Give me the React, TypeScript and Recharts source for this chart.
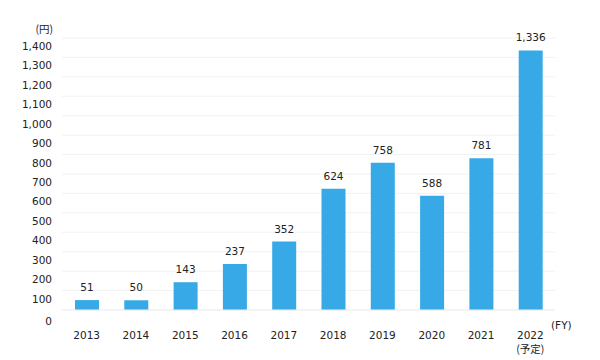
import React from 'react';
import { BarChart, Bar, XAxis, YAxis, CartesianGrid, LabelList } from 'recharts';

const years = ['2013', '2014', '2015', '2016', '2017', '2018', '2019', '2020', '2021', '2022'];
const values = [51, 50, 143, 237, 352, 624, 758, 588, 781, 1336];
const yTicks = [0, 100, 200, 300, 400, 500, 600, 700, 800, 900, 1000, 1100, 1200, 1300, 1400];

const data = years.map((y, i) => ({ year: y, value: values[i] }));

const FONT = '"DejaVu Sans", Verdana, sans-serif';
const fmt = (v: number) => v.toLocaleString('en-US');

const YTick = (props: any) => {
  const { x, y, payload } = props;
  const off = payload.value === 0 ? 15 : 12;
  return (
    <text x={x} y={y + off} textAnchor="end" fontFamily={FONT} fontSize={10.5} fill="#222">
      {fmt(payload.value)}
    </text>
  );
};

const XTick = (props: any) => {
  const { x, y, payload } = props;
  return (
    <g>
      <text x={x} y={y + 21} textAnchor="middle" fontFamily={FONT} fontSize={10.5} fill="#222">
        {payload.value}
      </text>
      {payload.value === '2022' ? (
        <text x={x} y={y + 35} textAnchor="middle" fontFamily={'"Noto Sans CJK JP", ' + FONT} fontSize={10.5} fill="#222">
          (予定)
        </text>
      ) : null}
    </g>
  );
};

export default function App() {
  return (
    <div style={{ position: 'absolute', left: 0, top: 0, width: 600, height: 360, background: '#fff' }}>
      <BarChart width={600} height={360} data={data} margin={{ top: 38, right: 45, bottom: 0, left: 0 }}>
        <CartesianGrid vertical={false} stroke="#f2f2f2" />
        <XAxis
          dataKey="year"
          tick={<XTick />}
          tickLine={false}
          axisLine={{ stroke: '#eeeeee' }}
          interval={0}
          height={50}
        />
        <YAxis
          domain={[0, 1400]}
          ticks={yTicks}
          tick={<YTick />}
          tickLine={false}
          axisLine={false}
          tickSize={0}
          tickMargin={10}
          width={62}
          interval={0}
        />
        <Bar dataKey="value" fill="#36a9e6" barSize={24} isAnimationActive={false}>
          <LabelList
            dataKey="value"
            position="top"
            offset={9}
            formatter={(v: any) => fmt(Number(v))}
            style={{ fontFamily: FONT, fontSize: 10.5, fill: '#222' }}
          />
        </Bar>
        <text x={53} y={33} textAnchor="end" fontFamily={'"Noto Sans CJK JP", ' + FONT} fontSize={10.5} fill="#222">(円)</text>
        <text x={551} y={329} textAnchor="start" fontFamily={FONT} fontSize={10.5} fill="#222">(FY)</text>
      </BarChart>
    </div>
  );
}
